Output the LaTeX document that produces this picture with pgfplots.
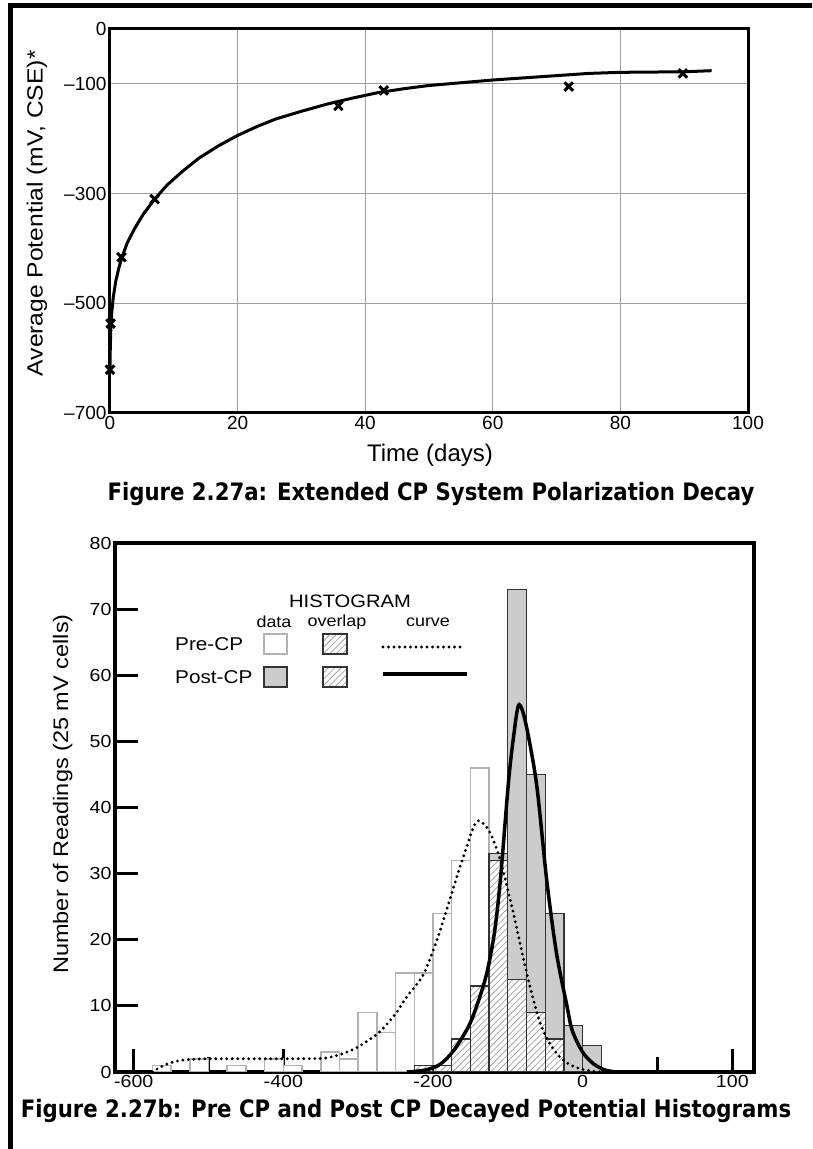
\documentclass[border=0pt]{standalone}
\usepackage{pgfplots}
\pgfplotsset{compat=1.18}
\usepackage{fontspec}
\setmainfont{Liberation Sans}
\newfontfamily\capfont[FakeStretch=0.885]{DejaVu Sans}
\newfontfamily\wfont[FakeStretch=1.12]{Liberation Sans}
\newfontfamily\ylabfont[FakeStretch=1.12]{Liberation Sans}
\usetikzlibrary{patterns.meta}
\pgfplotsset{/pgf/number format/assume math mode=true}

\pgfplotstableread{
x y
0 -625
0.03 -590
0.1 -555
0.25 -520
0.5 -490
0.9 -460
1.4 -435
1.9 -415
2.7 -390
3.8 -365
5.2 -338
7 -310
9 -284
11.5 -258
14 -235
17 -213
20 -194
23 -178
26 -164
30 -150
34 -137
38 -126
42 -116
46 -109
50 -103
55 -98
60 -93
65 -89
70 -85
75 -81
80 -79
85 -78.5
90 -78
94.3 -76
}\decaycurve

\pgfplotstableread{
x y
0 -621
0.1 -537
1.8 -416
7 -310
35.8 -140
42.9 -112
71.9 -105
89.8 -81
}\decaypts

\pgfplotstableread{
x y
-562.5 1
-512.5 2
-462.5 1
-412.5 2
-387.5 1
-337.5 3
-312.5 2
-287.5 9
-262.5 6
-237.5 15
-212.5 15
-187.5 24
-162.5 32
-137.5 46
-112.5 32
-87.5 14
-62.5 9
-37.5 5
}\prebars

\pgfplotstableread{
x y
-212.5 1
-187.5 1
-162.5 5
-137.5 13
-112.5 33
-87.5 73
-62.5 45
-37.5 24
-12.5 7
12.5 4
}\postbars

\pgfplotstableread{
x y
-212.5 1
-187.5 1
-162.5 5
-137.5 13
-112.5 32
-87.5 14
-62.5 9
-37.5 5
}\overlapbars

\pgfplotstableread{
x y
-575 0
-568 0.5
-560 1.0
-550 1.4
-540 1.7
-525 1.9
-500 2.0
-450 2.0
-400 2.0
-350 2.05
-335 2.3
-320 2.8
-305 3.5
-293 4.3
-271 6.1
-250 8.8
-235 11.4
-213 14.7
-195 19.9
-186 23
-175 27
-164 31
-155 34
-146 37
-139 38
-128 37
-119 35
-110 32
-101 28
-92.5 24
-83.6 19.4
-74.6 14.9
-65.8 10.9
-56.8 7.4
-45 4.5
-30 2.2
-15 1.0
0 0.4
15 0.1
28 0
}\precurve

\pgfplotstableread{
x y
-235 0
-210 0.3
-190 1.2
-172 3.3
-152 7
-140 10.5
-128 15
-118 21
-110 29
-99 44
-92 51
-86 55.4
-80 54.5
-72 50.5
-61 43
-48 29
-35 18
-21 10
-14 6.3
0 3
15 1.2
30 0.3
45 0
}\postcurve

\begin{document}
\begin{tikzpicture}
\useasboundingbox (0pt,0pt) rectangle (812pt,1149pt);
\begin{scope}
\clip (0pt,0pt) rectangle (812pt,1149pt);
\draw[line width=5pt] (10.8pt,-20pt) -- (10.8pt,1143.2pt) -- (830pt,1143.2pt);
\end{scope}

% ---------- top chart ----------
\begin{axis}[
  at={(110pt,736pt)}, anchor=south west, scale only axis,
  width=638pt, height=384pt,
  xmin=0, xmax=100, ymin=-700, ymax=0,
  xtick={0,20,40,60,80,100},
  ytick={0,-100,-300,-500,-700},
  yticklabels={0,–100,–300,–500,–700},
  grid=major, major grid style={gray!75, line width=1pt},
  major tick length=0pt,
  axis line style={line width=3pt},
  tick label style={font=\fontsize{19}{20}\selectfont},
  xlabel={Time (days)},
  ylabel={Average Potential (mV, CSE)*},
  xlabel style={font=\fontsize{24}{26}\selectfont, at={(axis description cs:0.5016,-0.109)}, anchor=center},
  ylabel style={font=\ylabfont\fontsize{22}{24}\selectfont, at={(axis description cs:-0.1144,0.52)}, anchor=center},
]
\addplot[black, line width=3pt, line join=round] table {\decaycurve};
\addplot[only marks, mark=x, mark size=6pt, mark options={line width=3pt, black}] table {\decaypts};
\end{axis}

\node[font=\capfont\bfseries\fontsize{24}{26}\selectfont] at (431pt,655pt) {Figure 2.27a: Extended CP System Polarization Decay};

% ---------- bottom chart ----------
\begin{axis}[
  at={(115pt,77pt)}, anchor=south west, scale only axis,
  width=639pt, height=529pt,
  xmin=-625, xmax=229, ymin=0, ymax=80,
  xtick={-600,-400,-200,0,200},
  xticklabels={-600,-400,-200,0,100},
  minor xtick={-500,-300,-100,100},
  ytick={0,10,20,30,40,50,60,70,80},
  xtick pos=left, ytick pos=left,
  tick align=inside,
  major tick length=23pt, minor tick length=15pt,
  every tick/.style={black, line width=3pt},
  axis line style={line width=3.5pt},
  tick label style={font=\wfont\fontsize{17.5}{19}\selectfont},
  ylabel={Number of Readings (25 mV cells)},
  ylabel style={font=\ylabfont\fontsize{21}{23}\selectfont, at={(axis description cs:-0.082,0.5255)}, anchor=center},
]
\addplot[ybar, bar width=25, bar shift=0pt, fill=white, draw=gray!60, line width=1.5pt] table {\prebars};
\addplot[ybar, bar width=25, bar shift=0pt, fill=gray!40, draw=black!80, line width=1.3pt] table {\postbars};
\addplot[ybar, bar width=25, bar shift=0pt, draw=black!80, line width=1.3pt, preaction={fill=white},
  pattern={Lines[angle=45,distance=4.5pt,line width=0.8pt]}, pattern color=gray!70] table {\overlapbars};
\addplot[black, line width=3.2pt, dash pattern=on 0pt off 5.5pt, line cap=round, smooth] table {\precurve};
\addplot[black, line width=3.5pt, smooth] table {\postcurve};
\end{axis}

% legend
\node[font=\wfont\fontsize{18}{20}\selectfont] at (350pt,548pt) {HISTOGRAM};
\node[font=\wfont\fontsize{16}{18}\selectfont] at (274pt,527pt) {data};
\node[font=\wfont\fontsize{16}{18}\selectfont] at (337pt,527pt) {overlap};
\node[font=\wfont\fontsize{16}{18}\selectfont] at (428pt,527pt) {curve};
\node[font=\wfont\fontsize{18.5}{20}\selectfont, anchor=west, inner sep=0pt] at (175pt,505pt) {Pre-CP};
\node[font=\wfont\fontsize{18.5}{20}\selectfont, anchor=west, inner sep=0pt] at (175pt,472pt) {Post-CP};
\draw[fill=white, draw=gray!60, line width=1.3pt] (264pt,495pt) rectangle (287pt,515pt);
\draw[draw=black!80, line width=1.3pt, preaction={fill=white}, pattern={Lines[angle=45,distance=4.5pt,line width=0.8pt]}, pattern color=gray!70] (323pt,495pt) rectangle (347pt,515pt);
\draw[fill=gray!40, draw=black!80, line width=1.3pt] (264pt,462pt) rectangle (287pt,482pt);
\draw[draw=black!80, line width=1.3pt, preaction={fill=white}, pattern={Lines[angle=45,distance=4.5pt,line width=0.8pt]}, pattern color=gray!70] (323pt,462pt) rectangle (347pt,482pt);
\draw[black, line width=3.2pt, dash pattern=on 0pt off 5.5pt, line cap=round] (383pt,502pt) -- (463pt,502pt);
\draw[black, line width=3.5pt] (383pt,475pt) -- (467pt,475pt);

\node[font=\capfont\bfseries\fontsize{24}{26}\selectfont] at (406pt,38pt) {Figure 2.27b: Pre CP and Post CP Decayed Potential Histograms};
\end{tikzpicture}
\end{document}
